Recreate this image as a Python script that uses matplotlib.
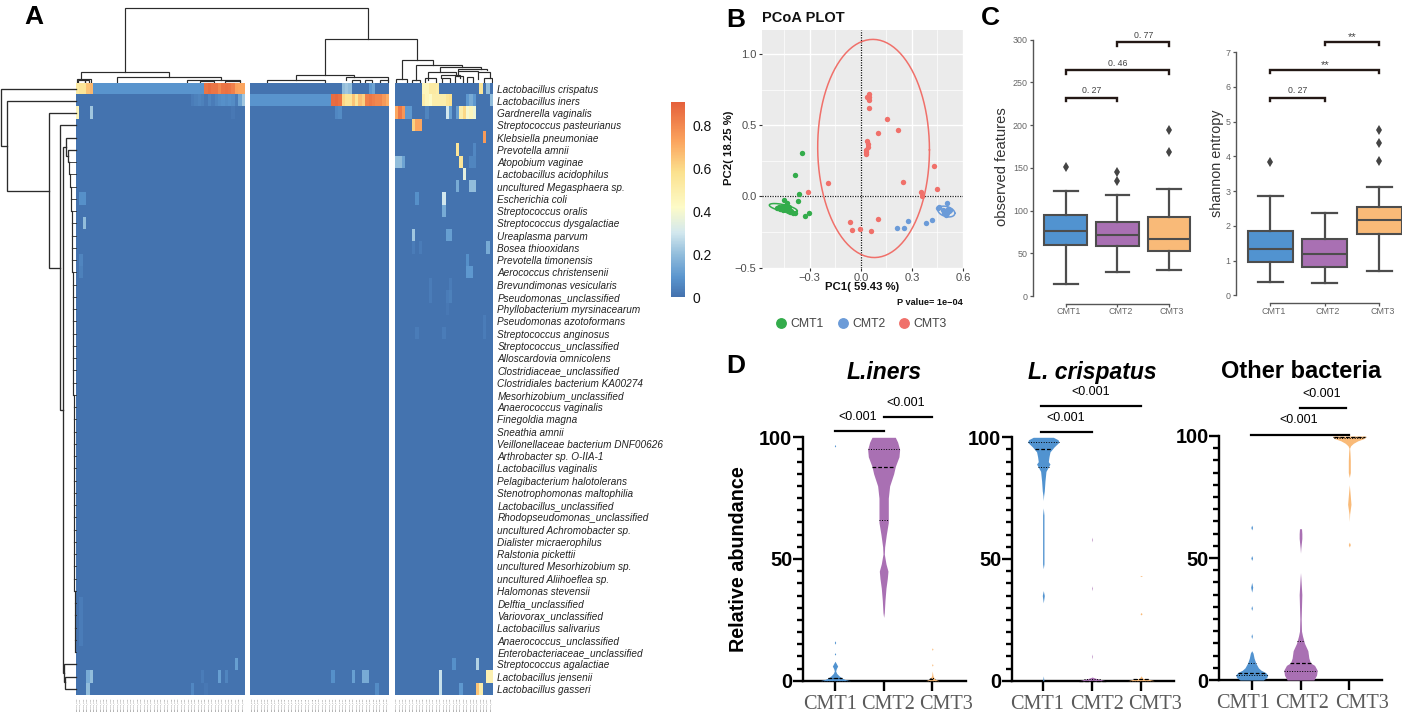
import matplotlib
matplotlib.use('Agg')
import matplotlib.pyplot as plt
import numpy as np
from matplotlib.colors import LinearSegmentedColormap
from matplotlib.cm import ScalarMappable
from matplotlib.colors import Normalize

plt.rcParams['font.family'] = ['Liberation Sans', 'DejaVu Sans']

W, H = 1402, 714

# ---- panel A data ----
species = ['Lactobacillus crispatus', 'Lactobacillus iners', 'Gardnerella vaginalis', 'Streptococcus pasteurianus',
           'Klebsiella pneumoniae', 'Prevotella amnii', 'Atopobium vaginae', 'Lactobacillus acidophilus',
           'uncultured Megasphaera sp.', 'Escherichia coli', 'Streptococcus oralis', 'Streptococcus dysgalactiae',
           'Ureaplasma parvum', 'Bosea thiooxidans', 'Prevotella timonensis', 'Aerococcus christensenii',
           'Brevundimonas vesicularis', 'Pseudomonas_unclassified', 'Phyllobacterium myrsinacearum',
           'Pseudomonas azotoformans', 'Streptococcus anginosus', 'Streptococcus_unclassified',
           'Alloscardovia omnicolens', 'Clostridiaceae_unclassified', 'Clostridiales bacterium KA00274',
           'Mesorhizobium_unclassified', 'Anaerococcus vaginalis', 'Finegoldia magna', 'Sneathia amnii',
           'Veillonellaceae bacterium DNF00626', 'Arthrobacter sp. O-IIA-1', 'Lactobacillus vaginalis',
           'Pelagibacterium halotolerans', 'Stenotrophomonas maltophilia', 'Lactobacillus_unclassified',
           'Rhodopseudomonas_unclassified', 'uncultured Achromobacter sp.', 'Dialister micraerophilus',
           'Ralstonia pickettii', 'uncultured Mesorhizobium sp.', 'uncultured Aliihoeflea sp.',
           'Halomonas stevensii', 'Delftia_unclassified', 'Variovorax_unclassified', 'Lactobacillus salivarius',
           'Anaerococcus_unclassified', 'Enterobacteriaceae_unclassified', 'Streptococcus agalactiae',
           'Lactobacillus jensenii', 'Lactobacillus gasseri']
block_cols = [50, 41, 29]
base_value = 0.005
# (row, first column, values)
block1_cells = [
    (0, 0, [.52, .55, .55, .65, .68]),
    (0, 5, [.09] * 33),
    (0, 38, [.85, .87, .85, .85, .80, .85, .86, .85, .82, .73, .72, .72]),
    (1, 34, [.03, .04, .05, .04, .02, .05, .03, .05, .07, .08, .07, .08, .07, .03, .13, .22]),
    (2, 0, [.45]), (2, 4, [.22]),
    (2, 46, [.02]),
    (9, 1, [.08, .08]), (11, 2, [.2]), (14, 1, [.05]), (15, 1, [.04]),
    (42, 1, [.03]), (43, 1, [.03]), (44, 1, [.03]), (45, 1, [.03]),
    (47, 47, [.12]),
    (48, 3, [.15, .2]), (48, 37, [.03]), (48, 42, [.12]), (48, 44, [.05]),
    (49, 3, [.2]), (49, 34, [.06]), (49, 38, [.02]),
]
block2_cells = [
    (0, 27, [.2, .22, .2]), (0, 35, [.1, .13]),
    (1, 0, [.09] * 24),
    (1, 24, [.87, .88, .86, .6, .55, .55, .65, .55, .66, .62, .82, .84, .82, .8, .8, .75, .7]),
    (2, 25, [.06, .07]),
    (48, 24, [.08]), (48, 30, [.12]), (48, 33, [.15, .15]),
    (49, 37, [.07]),
]
block3_cells = [
    (0, 8, [.45, .45, .52, .52, .5]), (0, 25, [.55]), (0, 27, [.2]),
    (1, 8, [.5, .45, .42, .5, .5, .5, .5, .55, .58]), (1, 21, [.1, .15, .1]), (1, 28, [.2]),
    (2, 0, [.72, .84, .76, .1, .1]), (2, 9, [.05]), (2, 15, [.3, .12]), (2, 18, [.12, .5, .6, .4, .45, .38]),
    (3, 5, [.62, .72, .72]),
    (4, 26, [.75]),
    (5, 18, [.55]), (5, 23, [.06]),
    (6, 0, [.2, .2, .13]), (6, 19, [.55]), (6, 22, [.05, .05]),
    (7, 20, [.35]),
    (8, 18, [.15]), (8, 22, [.2, .2]),
    (9, 6, [.08]), (9, 14, [.3]),
    (10, 14, [.15]),
    (12, 5, [.22]), (12, 15, [.12, .12]),
    (13, 5, [.03]), (13, 7, [.03]), (13, 27, [.15]),
    (14, 21, [.08]), (15, 21, [.1, .1]),
    (16, 10, [.03]), (16, 16, [.03]),
    (17, 10, [.03]), (17, 15, [.03, .04]),
    (18, 15, [.02]),
    (19, 26, [.03]), (20, 6, [.03]), (20, 14, [.03]), (20, 26, [.03]),
    (47, 17, [.08]), (47, 24, [.25]),
    (48, 13, [.28]), (48, 27, [.48, .48]),
    (49, 13, [.28]), (49, 19, [.1]), (49, 24, [.65, .5]),
]
cmap_stops = [(0, '#4472AE'), (.1, '#5A95CE'), (.22, '#93BEDC'), (.33, '#D3E8EE'), (.46, '#FDFBC8'),
              (.64, '#FBE18E'), (.8, '#FBA45E'), (1, '#E5603B')]
cbar_max = 0.907
cbar_ticks = [0, .2, .4, .6, .8]

# dendrogram links: left end, right end, y of left end, y of right end, y of the bar
top_links = [
    (125, 368.3, 71.7, 39.3, 7.7), (325, 417.3, 74.7, 59.7, 39.3), (80.7, 169.3, 78.5, 77.3, 71.7),
    (117.3, 220.7, 81.7, 80, 77.3), (186.7, 240, 81.5, 81, 80), (76.7, 90.7, 81.5, 81.5, 78.7),
    (78, 85, 81.5, 81.5, 80), (85, 89, 81.5, 81.5, 80), (200, 214, 81.5, 81.5, 80.5), (225, 240, 81.5, 81.5, 80.5),
    (295.7, 354, 80, 76.7, 74.7), (266.7, 325, 81.5, 81.5, 80), (346, 388, 79.5, 79.5, 77.3),
    (352, 360, 81.5, 81.5, 79.5), (365, 372, 81.5, 81.5, 79.5), (380, 388, 81.5, 81.5, 79.5),
    (401.7, 432.7, 79, 65, 59.7), (416, 462, 80, 67, 65), (440, 481, 71.7, 69, 67), (428, 456, 80, 75, 71.7),
    (441, 460, 78, 78, 75), (458, 487, 71, 70, 69), (458, 478, 76, 72, 71), (478, 490, 79, 78, 72),
    (395.5, 407, 81.5, 81.5, 79), (412, 420, 81.5, 81.5, 80), (425, 436, 81.5, 81.5, 78), (442, 450, 81.5, 81.5, 78),
    (455, 463, 81.5, 81.5, 76), (467, 473, 81.5, 81.5, 77), (484, 492, 81.5, 81.5, 78),
]
# row dendrogram, bar x, top child (x, row), bottom child (x, row)
left_links = [
    (1, 75.5, .5, 7.3, 5.15), (7.3, 75.5, 1.5, 49.3, 8.82), (49.3, 75.5, 2.5, 60.3, 15.13),
    (60.3, 75.5, 3.5, 63.3, 26.73), (63.3, 66.3, 5.25, 64, 48.2), (66.3, 75.5, 4.5, 68.3, 6),
    (68.3, 75.5, 5.5, 69.3, 6.5), (64, 75.5, 47.5, 65.3, 48.95), (65.3, 75.5, 48.5, 75.5, 49.5),
]
ladder_x = [69.3, 69.6, 70.5, 71.3, 71.5, 71.8, 72, 72.2, 72.4, 72.6, 72.6, 72.8, 72.9, 73, 73, 73.1, 73.2, 73.3, 73.4,
            73.5, 73.6, 73.7, 73.8, 73.8, 73.9, 74, 74, 74.1, 74.1, 74.2, 74.2, 74.3, 74.3, 74.4, 74.4, 74.5, 74.5,
            74.6, 74.7, 74.8, 74.9]

# ---- panel B data ----
cmt1_pc1 = [-.343, -.388, -.363, -.367, -.451, -.431, -.302, -.325, -.49, -.474, -.455, -.439, -.425, -.41, -.398,
            -.386, -.465, -.478, -.445, -.42, -.44, -.43, -.415]
cmt1_pc2 = [.304, .152, .019, -.033, -.028, -.047, -.119, -.136, -.082, -.09, -.093, -.098, -.093, -.105, -.117,
            -.117, -.075, -.075, -.065, -.075, -.085, -.1, -.11]
cmt2_pc1 = [.504, .451, .459, .482, .496, .506, .516, .525, .502, .276, .416, .384, .21, .255, .49, .51, .5]
cmt2_pc2 = [-.047, -.082, -.075, -.093, -.105, -.117, -.105, -.098, -.128, -.175, -.168, -.185, -.22, -.222,
            -.115, -.09, -.1]
cmt3_pc1 = [.049, .051, .039, .049, .051, .155, .22, .102, .039, .045, .041, .031, .029, .033, .429, .249, -.192,
            .447, -.312, .351, .361, -.063, .102, -.006, -.051, .057]
cmt3_pc2 = [.722, .70, .694, .675, .617, .544, .465, .444, .39, .369, .348, .322, .308, .299, .215, .103, .096, .049,
            .033, .03, 0, -.182, -.157, -.229, -.236, -.245]
# ellipse: centre x, centre y, half width, half height, tilt of y over x
cmt1_ell = (-.455, -.082, .082, .024, -.02)
cmt2_ell = (.502, -.107, .05, .036, -.012)
cmt3_ell = (.075, .336, .328, .766, -.01)

# ---- panel C data ----
groups = ['CMT1', 'CMT2', 'CMT3']
feat_lo = [14, 28, 31]
feat_q1 = [60, 58, 53]
feat_med = [76, 71, 67]
feat_q3 = [95, 87, 92]
feat_hi = [123, 118, 125]
feat_out = [[151], [135, 145], [169, 194]]
shan_lo = [.38, .34, .7]
shan_q1 = [.95, .82, 1.75]
shan_med = [1.34, 1.2, 2.18]
shan_q3 = [1.85, 1.63, 2.53]
shan_hi = [2.87, 2.37, 3.12]
shan_out = [[3.83], [], [3.85, 4.38, 4.76]]
feat_brackets = [(0, 1, 232, '0. 27'), (0, 2, 264, '0. 46'), (1, 2, 297, '0. 77')]
shan_brackets = [(0, 1, 5.69, '0. 27'), (0, 2, 6.49, '**'), (1, 2, 7.29, '**')]

# ---- panel D data: value along the axis, violin half width ----
iners1_y = [0, .5, 1, 2, 3, 4, 5, 6, 7, 8, 10.5, 11, 11.5, 15, 15.7, 16.4, 96, 96.5, 97]
iners1_w = [46, 30, 22, 12, 5, 2, 4, 8, 4, 0, 0, 2, 0, 0, 2, 0, 0, 2, 0]
iners2_y = [100, 98, 95, 92, 88, 85, 80, 75, 70, 65, 60, 55, 52, 48, 45, 42, 38, 33, 28, 26]
iners2_w = [35, 42, 48, 46, 35, 30, 18, 14, 14, 14, 8, 3, 2, 7, 13, 11, 7, 4, 2, 0]
iners3_y = [0, .5, 1, 2, 3, 4, 6, 6.5, 7, 12.5, 13, 13.5]
iners3_w = [20, 10, 6, 2, 1, 0, 0, 2, 0, 0, 2, 0]
crisp1_y = [100, 99, 98, 96, 94, 92, 90, 89, 86, 82, 78, 76, 74, 71, 68, 62, 58, 53, 48, 46, 37, 35, 32, 2, 0]
crisp1_w = [30, 44, 47, 32, 20, 17, 15, 20, 8, 5, 3, 1, 0, 0, 2, 2, 2, 2, 2, 0, 0, 3, 0, 0, 2]
crisp2_y = [0, .5, 1, 1.5, 9, 10, 11, 37, 38, 39, 57, 58, 59]
crisp2_w = [40, 25, 10, 0, 0, 1, 0, 0, 1, 0, 0, 1, 0]
crisp3_y = [0, .5, 1, 2, 27, 27.5, 28, 42.8, 43, 43.2]
crisp3_w = [40, 25, 5, 0, 0, 3, 0, 0, 4, 0]
other1_y = [0, 1, 2, 3, 4, 5, 7, 9, 11, 12, 17, 18, 19, 28.5, 29.5, 30.5, 36, 38, 40, 49, 50, 51, 61.5, 62.5, 63.5]
other1_w = [35, 45, 48, 42, 28, 20, 12, 7, 4, 0, 0, 2, 0, 0, 2, 0, 0, 3, 0, 0, 2.5, 0, 0, 2.5, 0]
other2_y = [0, 2, 4, 6, 7, 9, 12, 15, 18, 20, 25, 35, 42, 44, 52, 54, 58, 60, 62]
other2_w = [40, 48, 50, 42, 30, 25, 22, 12, 6, 3, 2, 4, 1, 0, 0, 1, 4, 4, 3]
other3_y = [100, 99, 98, 97, 96, 95, 93, 90, 85, 83, 80, 77, 72, 68, 65, 56.5, 55.5, 54.5]
other3_w = [50, 45, 25, 12, 4, 1, 2, 3, 3, 0, 0, 2, 5, 1, 0, 0, 3, 0]
# lower quartile, median, upper quartile
iners_quart = [(0, 1, 1), (66, 88, 95), (0, 0.6, 1)]
crisp_quart = [(88, 95, 98), (0, 0, .5), (0, .5, .6)]
other_quart = [(2, 3, 7), (3.5, 7, 16), (99, 99.4, 99.7)]
# bar start, bar end, bar height, label x, label height
iners_bars = [(0, 1, 102.6, .46, 108.5), (1, 2, 108.3, 1.445, 114.2)]
crisp_bars = [(-.04, 1, 102.2, .46, 107.9), (-.04, 2, 112.9, .96, 118.7)]
other_bars = [(-.01, 1.99, 100.5, .97, 106.6), (.99, 1.94, 111.4, 1.44, 117.3)]
# the x labels of panel D sit wider apart than the ticks
iners_label_shift = [-5, 4, 14]
crisp_label_shift = [-6, 5, 14]
other_label_shift = [-9, 2, 13]

box_colors = ['#5193D0', '#A970B3', '#F9BA78']
line_gray = '#4D4D4D'

fig = plt.figure(figsize=(W / 100, H / 100), dpi=100)


def ax_px(l, t, r, b):
    return fig.add_axes([l / W, 1 - b / H, (r - l) / W, (b - t) / H])


def txt(x, y, s, **kw):
    return fig.text(x / W, 1 - y / H, s, **kw)


def px_pt(v):
    return v * 72 / 100


# ---- A: heatmap ----
cmap = LinearSegmentedColormap.from_list('heat', cmap_stops)
norm = Normalize(0, cbar_max)
block_px = [(75.5, 244.4), (250, 389), (394.7, 492.7)]
heat_top, heat_bot = 82.6, 695
for k, cells in enumerate([block1_cells, block2_cells, block3_cells]):
    mat = np.full((len(species), block_cols[k]), base_value)
    for row, col, vals in cells:
        mat[row, col:col + len(vals)] = vals
    ax = ax_px(block_px[k][0], heat_top, block_px[k][1], heat_bot)
    ax.imshow(mat, aspect='auto', cmap=cmap, norm=norm, interpolation='nearest')
    ax.set_yticks([])
    ax.set_xticks(range(block_cols[k]))
    ax.set_xticklabels([f'sample_{k}{i:02d}' for i in range(block_cols[k])], rotation=90, fontsize=1.7,
                       color='#666666')
    ax.tick_params(axis='x', length=0, pad=2.2)
    for s in ax.spines.values():
        s.set_visible(False)
    if k == 2:
        ax.yaxis.tick_right()
        ax.set_yticks(range(len(species)))
        ax.set_yticklabels(species, fontsize=7.2, style='italic', color='#222222', va='center_baseline')
        ax.tick_params(axis='y', length=0, pad=3.4)

dend_c = '#2B2B2B'
ax = ax_px(75.5, 5, 492.7, 83)
ax.set_xlim(75.5, 492.7)
ax.set_ylim(83, 5)
ax.axis('off')
for x0, x1, y0, y1, yt in top_links:
    ax.plot([x0, x0, x1, x1], [y0, yt, yt, y1], color=dend_c, lw=.85, solid_joinstyle='miter')

ax = ax_px(0, heat_top, 75.5, heat_bot)
ax.set_xlim(0, 75.5)
ax.set_ylim(50, 0)
ax.axis('off')
for xb, xt, rt, xd, rd in left_links:
    ax.plot([xt, xb, xb, xd], [rt, rt, rd, rd], color=dend_c, lw=.95, solid_joinstyle='miter', clip_on=False)
for i, x in enumerate(ladder_x):
    row = 6.5 + i
    ax.plot([x, 75.5], [row, row], color=dend_c, lw=.6, clip_on=False)
    if i < len(ladder_x) - 1:
        ax.plot([x, x], [row, row + 1], color=dend_c, lw=.85, clip_on=False)

cax = ax_px(671, 102, 685, 297)
cb = fig.colorbar(ScalarMappable(norm=norm, cmap=cmap), cax=cax, ticks=cbar_ticks)
cb.ax.set_yticklabels(['0', '0.2', '0.4', '0.6', '0.8'], fontsize=10, color='#111111')
cb.ax.tick_params(length=0, pad=5.5)
cb.outline.set_visible(False)

# ---- B: PCoA ----
ax = ax_px(762, 30, 963, 267.5)
ax.set_xlim(-.58, .6)
ax.set_ylim(-.5, 1.168)
ax.set_facecolor('#EBEBEB')
ax.set_axisbelow(True)
ax.set_xticks([-.3, 0, .3, .6])
ax.set_xticklabels(['\u22120.3', '0.0', '0.3', '0.6'])
ax.set_yticks([-.5, 0, .5, 1])
ax.set_yticklabels(['\u22120.5', '0.0', '0.5', '1.0'])
ax.set_xticks([-.45, -.15, .15, .45], minor=True)
ax.set_yticks([-.25, .25, .75], minor=True)
ax.grid(which='major', color='white', lw=1)
ax.grid(which='minor', color='white', lw=.5)
ax.tick_params(which='major', labelsize=8, labelcolor='#4D4D4D', color='#333333', length=2.5, width=.8, pad=1.5)
ax.tick_params(which='minor', length=0)
for s in ax.spines.values():
    s.set_visible(False)
ax.axhline(0, color='#222222', lw=.9, ls=(0, (1, 1)))
ax.axvline(0, color='#111111', lw=.9, ls=(0, (1, 1)))
group_pts = [(cmt1_pc1, cmt1_pc2, '#33AC4B', cmt1_ell), (cmt2_pc1, cmt2_pc2, '#6B9BD8', cmt2_ell),
             (cmt3_pc1, cmt3_pc2, '#F0706A', cmt3_ell)]
t = np.linspace(0, 2 * np.pi, 200)
for g, (px, py, col, ell) in enumerate(group_pts):
    ax.scatter(px, py, s=15, color=col, linewidths=0, zorder=3, clip_on=False)
    cx, cy, a, b, tilt = ell
    ax.plot(cx + a * np.cos(t), cy + b * np.sin(t) + tilt * np.cos(t), color=col, lw=1.1, zorder=3)
txt(762, 22, 'PCoA PLOT', fontsize=10.5, fontweight='bold', color='#111111', va='baseline')
txt(862, 287.5, 'PC1( 59.43 %)', fontsize=8.2, fontweight='bold', ha='center', va='center', color='#111111')
txt(729, 148, 'PC2( 18.25 %)', fontsize=8.2, fontweight='bold', rotation=90, ha='center', va='center', color='#111111')
txt(963, 302, 'P value= 1e\u221204', fontsize=6.6, fontweight='bold', ha='right', va='center', color='#111111')
for g, x0 in enumerate([781, 842.7, 904]):
    fig.add_artist(plt.Line2D([x0 / W], [1 - 323.5 / H], marker='o', ms=6.8, color=group_pts[g][2], lw=0))
    txt(x0 + 9.5, 324, groups[g], fontsize=8.8, color='#444444', va='center')


# ---- C: boxplots ----
def box_panel(pos, xlim, ylim, yticks, lo, q1, med, q3, hi, out, brackets):
    ax = ax_px(*pos)
    stats = [dict(whislo=lo[i], q1=q1[i], med=med[i], q3=q3[i], whishi=hi[i], fliers=out[i]) for i in range(3)]
    art = ax.bxp(stats, positions=range(3), widths=.83, patch_artist=True,
                 boxprops=dict(edgecolor=line_gray, lw=1.5),
                 medianprops=dict(color=line_gray, lw=1.5),
                 whiskerprops=dict(color=line_gray, lw=1.6),
                 capprops=dict(color=line_gray, lw=1.6),
                 capwidths=.46,
                 flierprops=dict(marker='d', ms=5.5, mfc='#444444', mec='#444444', mew=0))
    for b, c in zip(art['boxes'], box_colors):
        b.set_facecolor(c)
    ax.set_xlim(*xlim)
    ax.set_ylim(*ylim)
    ax.set_yticks(yticks)
    ax.set_xticks(range(3))
    ax.set_xticklabels([])
    ax.tick_params(labelsize=6.4, labelcolor='#666666', color='#555555', length=2.2, width=.9, pad=1.5)
    for i, g in enumerate(groups):
        ax.annotate(g, xy=(i, 0), xycoords=('data', 'axes fraction'), xytext=(px_pt(3), px_pt(-15.7)),
                    textcoords='offset points', fontsize=6.4, color='#666666', ha='center', va='center',
                    annotation_clip=False)
    ax.spines['top'].set_visible(False)
    ax.spines['right'].set_visible(False)
    ax.spines['left'].set_color('#555555')
    ax.spines['left'].set_linewidth(1)
    ax.spines['left'].set_bounds(*ylim)
    ax.spines['bottom'].set_color('#555555')
    ax.spines['bottom'].set_linewidth(1)
    ax.spines['bottom'].set_position(('outward', 5.6))
    ax.spines['bottom'].set_bounds(0, 2)
    drop = (ylim[1] - ylim[0]) * 3.5 / (pos[3] - pos[1])
    for x0, x1, y, s in brackets:
        ax.plot([x0, x0, x1, x1], [y - drop, y, y, y - drop], color='#231815', lw=1.7, clip_on=False,
                solid_joinstyle='miter')
        stars = s == '**'
        ax.annotate(s, xy=((x0 + x1) / 2, y), xytext=(0, px_pt(5 if stars else 7)), textcoords='offset points',
                    fontsize=8 if stars else 6.3, color='#444444', ha='center', va='center', annotation_clip=False)
    return ax


box_panel((1033, 39.7, 1200, 296), (-.635, 2.6), (0, 300), [0, 50, 100, 150, 200, 250, 300],
          feat_lo, feat_q1, feat_med, feat_q3, feat_hi, feat_out, feat_brackets)
box_panel((1235.7, 52, 1402, 295.3), (-.635, 2.416), (0, 7), list(range(8)),
          shan_lo, shan_q1, shan_med, shan_q3, shan_hi, shan_out, shan_brackets)
txt(1001.7, 167, 'observed features', fontsize=10.6, rotation=90, ha='center', va='center', color='#333333')
txt(1217, 163, 'shannon entropy', fontsize=10.4, rotation=90, ha='center', va='center', color='#333333')


# ---- D: violins ----
def violin_panel(pos, xlim, profiles, quarts, bars, label_shift):
    ax = ax_px(*pos)
    ax.set_xlim(*xlim)
    ax.set_ylim(0, 100)
    for i, (vy, vw) in enumerate(profiles):
        order = np.argsort(vy)
        vy = np.array(vy, dtype=float)[order]
        vw = np.array(vw, dtype=float)[order] / 146
        ax.fill_betweenx(vy, i - vw, i + vw, color=box_colors[i], lw=0, clip_on=False, zorder=3)
        for q, ls, lw in zip(quarts[i], [(0, (1, 1.6)), (0, (3, 1.6)), (0, (1, 1.6))], [.7, .9, .7]):
            hw = np.interp(q, vy, vw)
            ax.plot([i - hw, i + hw], [q, q], color='black', lw=lw, ls=ls, zorder=4, clip_on=False)
    ax.set_xticks(range(3))
    ax.set_xticklabels([])
    for i, g in enumerate(groups):
        ax.annotate(g, xy=(i, 0), xycoords=('data', 'axes fraction'), xytext=(px_pt(label_shift[i]), px_pt(-28)),
                    textcoords='offset points', family=['Liberation Serif', 'DejaVu Serif'], fontsize=14.6,
                    color='#5A5A5A', ha='center', va='baseline', annotation_clip=False)
    ax.set_yticks([0, 50, 100])
    ax.set_yticks(range(0, 101, 5), minor=True)
    ax.tick_params(axis='y', which='major', length=7, width=1.7, labelsize=14.4, pad=.6)
    for l in ax.get_yticklabels():
        l.set_fontweight('bold')
    ax.tick_params(axis='y', which='minor', length=4, width=1.7)
    ax.tick_params(axis='x', length=7, width=1.7, pad=3)
    ax.spines['top'].set_visible(False)
    ax.spines['right'].set_visible(False)
    ax.spines['left'].set_linewidth(1.7)
    ax.spines['bottom'].set_linewidth(1.7)
    ax.patch.set_alpha(0)
    for x0, x1, y, lx, ly in bars:
        ax.plot([x0, x1], [y, y], color='black', lw=1.6, clip_on=False)
        ax.text(lx, ly, '<0.001', fontsize=9, ha='center', va='center', clip_on=False)
    return ax


violin_panel((802.7, 437.3, 966, 680.7), (-.664, 2.693),
             [(iners1_y, iners1_w), (iners2_y, iners2_w), (iners3_y, iners3_w)], iners_quart, iners_bars,
             iners_label_shift)
violin_panel((1012, 437.3, 1174.3, 680.7), (-.64, 2.68),
             [(crisp1_y, crisp1_w), (crisp2_y, crisp2_w), (crisp3_y, crisp3_w)], crisp_quart, crisp_bars,
             crisp_label_shift)
violin_panel((1219.3, 436, 1382.3, 680), (-.664, 2.676),
             [(other1_y, other1_w), (other2_y, other2_w), (other3_y, other3_w)], other_quart, other_bars,
             other_label_shift)
txt(884, 379, 'L.iners', fontsize=16.5, fontweight='bold', style='italic', ha='center', va='baseline')
txt(1092, 379, 'L. crispatus', fontsize=16.5, fontweight='bold', style='italic', ha='center', va='baseline')
txt(1300.7, 378, 'Other bacteria', fontsize=17, fontweight='bold', ha='center', va='baseline')
txt(739, 559, 'Relative abundance', fontsize=14.2, fontweight='bold', rotation=90, ha='center', va='center')

# panel letters
for x, y, s in [(24, 24, 'A'), (726, 27, 'B'), (981, 25, 'C'), (726, 373, 'D')]:
    txt(x, y, s, fontsize=19, fontweight='bold', va='baseline', color='black')

fig.savefig('out.png', dpi=100)
